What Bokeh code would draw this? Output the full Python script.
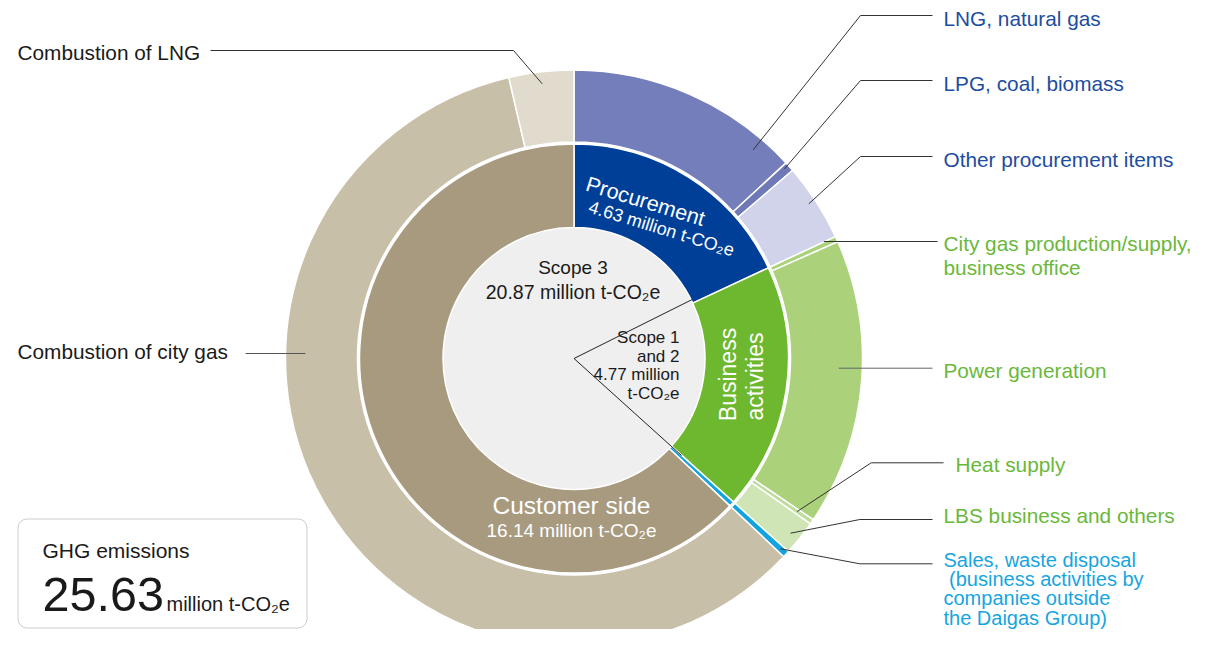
import numpy as np
from bokeh.plotting import figure
from bokeh.models import Range1d, ColumnDataSource, BoxAnnotation
from bokeh.embed import file_html
from bokeh.resources import INLINE
from bokeh.core.properties import value

# ---------------- data ----------------
inner_labels = ["Procurement", "Business activities", "Sales, waste disposal", "Customer side"]
inner_values = [4.63, 4.77, 0.10, 16.14]
inner_colors = ["#003f98", "#6db82e", "#12a3e0", "#a89a7f"]

outer_labels = ["LNG, natural gas", "LPG, coal, biomass", "Other procurement items",
                "City gas production/supply, business office", "Power generation",
                "Heat supply", "LBS business and others",
                "Sales, waste disposal (business activities by companies outside the Daigas Group)",
                "Combustion of city gas", "Combustion of LNG"]
outer_values = [3.37, 0.14, 1.12, 0.08, 4.12, 0.07, 0.50, 0.10, 15.21, 0.93]
outer_colors = ["#747ebb", "#6f79b7", "#d1d3eb", "#a9d27a", "#abd27b", "#bedc9c",
                "#d0e5b6", "#12a3e0", "#c8bfa9", "#e0dbcc"]

total_text = "25.63"
scope3_text = ["Scope 3", "20.87 million t-CO\u2082e"]
scope12_text = ["Scope 1", "and 2", "4.77 million", "t-CO\u2082e"]
proc_text = ["Procurement", "4.63 million t-CO\u2082e"]
cust_text = ["Customer side", "16.14 million t-CO\u2082e"]
sales_lines = ["Sales, waste disposal", "\u00a0(business activities by", "companies outside", "the Daigas Group)"]

# ---------------- layout ----------------
W, H = 1195, 629
IMG_H = 645
def Y(img_y):
    return IMG_H - img_y

CX, CY = 573.5, Y(358)
R0, R1, R2, R3 = 131, 214.5, 216.5, 288.5
FONT = value("Liberation Sans")

p = figure(width=W, height=H, x_range=Range1d(0, W), y_range=Range1d(IMG_H - H, IMG_H),
           output_backend="svg", toolbar_location=None, min_border=0,
           x_axis_location=None, y_axis_location=None)
p.grid.visible = False
p.outline_line_color = None
p.background_fill_color = "white"
p.border_fill_color = "white"

def angles(vals):
    v = np.array(vals, dtype=float)
    cum = np.cumsum(v) / v.sum() * 2 * np.pi
    prev = np.concatenate([[0.0], cum[:-1]])
    return np.pi / 2 - prev, np.pi / 2 - cum

# GHG box (under everything)
box = BoxAnnotation(left=17.5, right=306.5, top=Y(518.5), bottom=Y(627.5), fill_color="white",
                    fill_alpha=1.0, line_color="#555555", line_width=1, border_radius=9,
                    level="underlay")
p.add_layout(box)

# centre disc
p.circle(x=[CX], y=[CY], radius=R0, fill_color="#efefef", line_color=None)

s_in, e_in = angles(inner_values)
src_in = ColumnDataSource(dict(start=s_in, end=e_in, color=inner_colors, label=inner_labels))
p.annular_wedge(x=CX, y=CY, inner_radius=R0, outer_radius=R1, start_angle="start", end_angle="end",
                direction="clock", fill_color="color", line_color="white", line_width=1.5, source=src_in)

s_out, e_out = angles(outer_values)
src_out = ColumnDataSource(dict(start=s_out, end=e_out, color=outer_colors, label=outer_labels))
p.annular_wedge(x=CX, y=CY, inner_radius=R2, outer_radius=R3, start_angle="start", end_angle="end",
                direction="clock", fill_color="color", line_color="white", line_width=1.5, source=src_out)

# scope 1&2 bracket
p.line(x=[691.7, CX, 681], y=[Y(299), CY, Y(455)], line_color="#222222", line_width=1)

# leader lines
leaders = [
    ([210, 513, 541.7], [50, 50, 83.3], "#333333"),
    ([245, 305], [353, 353], "#555555"),
    ([932, 860, 752.7], [15, 15, 149.3], "#333333"),
    ([932, 860, 784], [80, 80, 168.3], "#333333"),
    ([932, 860, 808.3], [156, 156, 203.3], "#333333"),
    ([937, 823.3], [241, 241], "#333333"),
    ([932, 838.3], [367.7, 367.7], "#666666"),
    ([943, 870.7, 796.7], [462.3, 462.3, 511], "#333333"),
    ([932, 859.3, 790], [519, 519, 532.7], "#333333"),
    ([932, 859.3, 780], [563.3, 563.3, 548.3], "#333333"),
]
for xs, ys, c in leaders:
    p.line(x=xs, y=[Y(v) for v in ys], line_color=c, line_width=1)

def txt(x, y, s, size, color="#1a1a1a", align="left", baseline="middle", angle=0.0):
    p.text(x=[x], y=[Y(y)], text=[s], text_font=FONT, text_font_size=value(size),
           text_color=color, text_align=align, text_baseline=baseline, angle=angle)

BLUE = "#1d4d9f"
GREEN = "#6ab83a"
CYAN = "#17a5e0"
LBL = "20.8px"

# left labels
txt(17, 52, outer_labels[9], LBL)
txt(17, 351, outer_labels[8], LBL)
# right labels
txt(943, 18, outer_labels[0], LBL, BLUE)
txt(943, 83, outer_labels[1], LBL, BLUE)
txt(943, 159, outer_labels[2], LBL, BLUE)
txt(943, 243, "City gas production/supply,", LBL, GREEN)
txt(943, 266.5, "business office", LBL, GREEN)
txt(943, 370, outer_labels[4], LBL, GREEN)
txt(955, 464, outer_labels[5], LBL, GREEN)
txt(943, 515, outer_labels[6], LBL, GREEN)
for i, s in enumerate(sales_lines):
    txt(943, 559 + i * 19.4, s, "20px", CYAN)

# inner ring labels
rot = -17 * np.pi / 180
txt(645, 201, proc_text[0], "21.5px", "white", "center", angle=rot)
txt(661, 228, proc_text[1], "18px", "white", "center", angle=rot)
txt(727, 374, "Business", "23px", "white", "center", angle=np.pi / 2)
txt(754, 376, "activities", "23px", "white", "center", angle=np.pi / 2)
txt(571, 505, cust_text[0], "24.5px", "white", "center")
txt(571, 530, cust_text[1], "19px", "white", "center")

# centre labels
txt(572.5, 267, scope3_text[0], "19px", "#1a1a1a", "center")
txt(572.5, 291, scope3_text[1], "19.5px", "#1a1a1a", "center")
for i, s in enumerate(scope12_text):
    txt(679, 337 + i * 18.7, s, "17px", "#1a1a1a", "right")

# GHG box texts
txt(42, 550, "GHG emissions", "21px")
txt(42, 594, total_text, "48.5px")
txt(166, 603.5, "million t-CO\u2082e", "20px")

open("out.html", "w").write(file_html(p, INLINE))
